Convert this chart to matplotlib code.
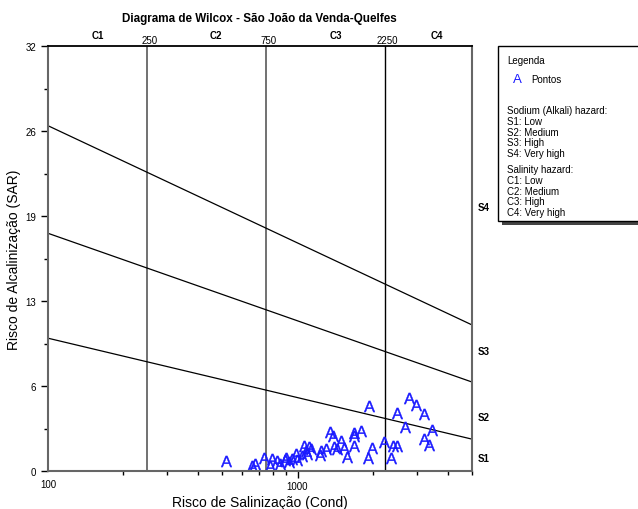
import matplotlib
matplotlib.use("Agg")
import matplotlib.pyplot as plt
from matplotlib.patches import Rectangle
import numpy as np

plt.rcParams['font.family'] = ['Liberation Sans', 'DejaVu Sans']
plt.rcParams['mathtext.fontset'] = 'custom'
plt.rcParams['mathtext.rm'] = 'Liberation Sans'

# pontos (condutividade, SAR)
cond = [517, 654, 678, 732, 779, 791, 829, 854, 887, 903, 923, 952, 982, 997,
        1044, 1060, 1077, 1094, 1110, 1128, 1229, 1237, 1295, 1344, 1391, 1399,
        1435, 1489, 1535, 1584, 1683, 1683, 1683, 1791, 1933, 1922, 1982, 2222,
        2363, 2423, 2498, 2514, 2690, 2784, 2978, 3215, 3215, 3368, 3443]
sar = [0.78, 0.40, 0.53, 0.98, 0.40, 0.90, 0.78, 0.53, 0.85, 0.96, 0.66, 0.90,
       1.28, 0.85, 1.15, 1.91, 1.53, 1.28, 1.78, 1.66, 1.20, 1.53, 1.66, 2.91,
       2.66, 1.78, 1.66, 2.28, 1.73, 1.03, 2.66, 2.86, 1.91, 3.03, 4.92, 0.96,
       1.71, 2.21, 0.96, 1.91, 1.86, 4.37, 3.29, 5.47, 4.97, 4.29, 2.41, 1.96,
       3.09]

# limites das classes
c_limits = [250, 750, 2250]
c_names = ["C1", "C2", "C3", "C4"]
c_name_pos = [158, 470, 1420, 3600]
s_lines_x = [100, 5000]
s_lines_y = [[10.0, 2.4], [17.9, 6.7], [26.0, 11.0]]
s_names = ["S1", "S2", "S3", "S4"]
s_name_pos = [1.0, 4.1, 9.0, 19.9]
yticks = [0, 6.4, 12.8, 19.2, 25.6, 32]
yticklabels = ["0", "6", "13", "19", "26", "32"]

fig = plt.figure(figsize=(6.38, 5.10), dpi=100)
ax = fig.add_axes([0.0752, 0.0745, 0.6646, 0.8333])
ax.set_xscale('log')
ax.set_xlim(100, 5000)
ax.set_ylim(0, 32)

for i, c in enumerate(c_limits):
    col = '#666666' if i < 2 else 'black'
    ax.plot([c, c], [0, 32], color=col, lw=1.3 if i < 2 else 1.0)
for ys in s_lines_y:
    ax.plot(s_lines_x, ys, color='black', lw=0.9)

ax.plot(cond, sar, linestyle='none', marker=r'$\mathrm{A}$', markersize=8,
        color='#1a1aff', mew=0.3)

ax.set_yticks(yticks)
ax.set_yticklabels(yticklabels)
ax.set_yticks([3.2, 9.6, 16.0, 22.4, 28.8], minor=True)
ax.set_xticks([1000])
ax.set_xticklabels(["1000"])
ax.xaxis.set_minor_locator(matplotlib.ticker.LogLocator(subs=np.arange(2, 10)))
ax.xaxis.set_minor_formatter(matplotlib.ticker.NullFormatter())
ax.text(100, -0.95, "100", ha='center', va='center', fontsize=7)
ax.tick_params(axis='both', labelsize=7, direction='out', length=5, width=1)
ax.tick_params(axis='both', which='minor', length=3, width=1)
ax.tick_params(axis='x', which='major', length=5, pad=2)

for side in ['left', 'bottom', 'right']:
    ax.spines[side].set_color('#666666')
    ax.spines[side].set_linewidth(1.5)
ax.spines['top'].set_linewidth(1.3)

for name, x in zip(c_names, c_name_pos):
    ax.text(x, 32.45, name, ha='center', va='bottom', fontsize=7, fontweight='bold')
for c in c_limits:
    ax.text(c * 1.02, 32.1, str(c), ha='center', va='bottom', fontsize=7)
for name, y in zip(s_names, s_name_pos):
    ax.text(5250, y, name, ha='left', va='center', fontsize=7, fontweight='bold')

ax.set_xlabel("Risco de Salinização (Cond)", fontsize=10, labelpad=3)
ax.set_ylabel("Risco de Alcalinização (SAR)", fontsize=10, labelpad=3)
fig.text(0.407, 0.963, "Diagrama de Wilcox - São João da Venda-Quelfes",
         ha='center', va='center', fontsize=8.4, fontweight='bold')

# legenda
W, H = 638, 510
fig.patches.append(Rectangle((502 / W, 1 - 226 / H), 140 / W, 175 / H,
                             transform=fig.transFigure, facecolor='#444444',
                             edgecolor='none'))
fig.patches.append(Rectangle((498 / W, 1 - 222 / H), 142 / W, 175 / H,
                             transform=fig.transFigure, facecolor='white',
                             edgecolor='black', lw=1))
fig.text(507 / W, 1 - 61 / H, "Legenda", fontsize=7, va='center')
fig.text(517 / W, 1 - 80 / H, "A", fontsize=9.5, va='center', ha='center',
         color='#1a1aff')
fig.text(531 / W, 1 - 80 / H, "Pontos", fontsize=7, va='center')
legend_lines = ["Sodium (Alkali) hazard:", "S1: Low", "S2: Medium", "S3: High",
                "S4: Very high"]
for i, t in enumerate(legend_lines):
    fig.text(507 / W, 1 - (111 + i * 10.8) / H, t, fontsize=7, va='center')
legend_lines2 = ["Salinity hazard:", "C1: Low", "C2: Medium", "C3: High",
                 "C4: Very high"]
for i, t in enumerate(legend_lines2):
    fig.text(507 / W, 1 - (170 + i * 10.8) / H, t, fontsize=7, va='center')

fig.savefig("out.png", dpi=100)
